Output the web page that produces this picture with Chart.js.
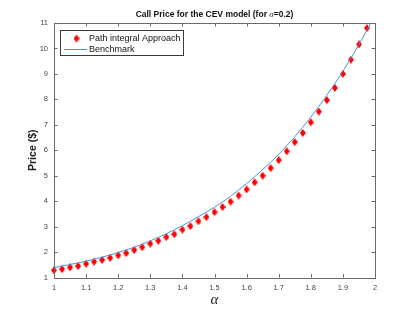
<!DOCTYPE html>
<html lang="en">
  <head>
    <meta charset="UTF-8" />
    <title>Call Price for the CEV model</title>
    <script src="https://cdn.jsdelivr.net/npm/chart.js"></script>
    <style>
      html, body { margin: 0; padding: 0; background: #fff; }
      #wrap { width: 415px; height: 312px; }
    </style>
  </head>
  <body>
    <div id="wrap"><canvas id="cevChart" width="415" height="312"></canvas></div>
    <script>
      // path integral approach, alpha step 0.025
      const alphaPts = [1, 1.025, 1.05, 1.075, 1.1, 1.125, 1.15, 1.175, 1.2, 1.225,
        1.25, 1.275, 1.3, 1.325, 1.35, 1.375, 1.4, 1.425, 1.45, 1.475,
        1.5, 1.525, 1.55, 1.575, 1.6, 1.625, 1.65, 1.675, 1.7, 1.725,
        1.75, 1.775, 1.8, 1.825, 1.85, 1.875, 1.9, 1.925, 1.95, 1.975];
      const pathPrice = [1.28, 1.33, 1.40, 1.45, 1.54, 1.62, 1.69, 1.77, 1.87, 1.96,
        2.08, 2.19, 2.33, 2.44, 2.59, 2.70, 2.88, 3.02, 3.21, 3.37,
        3.57, 3.77, 3.98, 4.22, 4.46, 4.74, 5.00, 5.30, 5.61, 5.96,
        6.32, 6.68, 7.10, 7.52, 7.97, 8.45, 9.00, 9.56, 10.16, 10.80];

      // benchmark curve
      const benchAlpha = [1, 1.05, 1.1, 1.15, 1.2, 1.25, 1.3, 1.35, 1.4, 1.45, 1.5,
        1.55, 1.6, 1.65, 1.7, 1.75, 1.8, 1.85, 1.9, 1.95, 2];
      const benchPrice = [1.39, 1.51, 1.64, 1.80, 1.98, 2.19, 2.44, 2.72, 3.04, 3.39, 3.76,
        4.19, 4.69, 5.24, 5.84, 6.53, 7.30, 8.16, 9.10, 10.15, 11.3];

      const xTicks = [1, 1.1, 1.2, 1.3, 1.4, 1.5, 1.6, 1.7, 1.8, 1.9, 2];
      const yTicks = [1, 2, 3, 4, 5, 6, 7, 8, 9, 10, 11];

      const red = "#ff0000";
      const blue = "rgb(70,150,215)";
      const axisCol = "#6a6a6a";
      const sans = "'Liberation Sans', Arial, sans-serif";

      // matlab-like diamond marker
      const diamond = document.createElement("canvas");
      diamond.width = 6;
      diamond.height = 8;
      const dctx = diamond.getContext("2d");
      dctx.fillStyle = red;
      dctx.beginPath();
      dctx.moveTo(3, 0);
      dctx.lineTo(6, 4);
      dctx.lineTo(3, 8);
      dctx.lineTo(0, 4);
      dctx.closePath();
      dctx.fill();

      const frame = {
        id: "frame",
        afterDraw(chart) {
          const { ctx, chartArea: a, scales } = chart;
          ctx.save();
          // box + inward ticks on all sides
          ctx.strokeStyle = axisCol;
          ctx.lineWidth = 1;
          ctx.strokeRect(Math.round(a.left) + 0.5, Math.round(a.top) + 0.5,
            Math.round(a.right - a.left), Math.round(a.bottom - a.top));
          ctx.beginPath();
          xTicks.forEach((v) => {
            const px = Math.round(scales.x.getPixelForValue(v)) + 0.5;
            ctx.moveTo(px, a.bottom); ctx.lineTo(px, a.bottom - 3.5);
            ctx.moveTo(px, a.top); ctx.lineTo(px, a.top + 3.5);
          });
          yTicks.forEach((v) => {
            const py = Math.round(scales.y.getPixelForValue(v)) + 0.5;
            ctx.moveTo(a.left, py); ctx.lineTo(a.left + 3.5, py);
            ctx.moveTo(a.right, py); ctx.lineTo(a.right - 3.5, py);
          });
          ctx.stroke();

          // title with italic sigma
          const parts = [
            ["Call Price for the CEV model (for ", "bold 8.5px " + sans],
            ["\u03c3", "italic 9px 'Liberation Serif', serif"],
            ["=0.2)", "bold 8.5px " + sans],
          ];
          let w = 0;
          parts.forEach((p) => { ctx.font = p[1]; w += ctx.measureText(p[0]).width; });
          let tx = (a.left + a.right) / 2 - w / 2;
          ctx.fillStyle = "#111";
          ctx.textBaseline = "middle";
          ctx.textAlign = "left";
          parts.forEach((p) => {
            ctx.font = p[1];
            ctx.fillText(p[0], tx, 15);
            tx += ctx.measureText(p[0]).width;
          });

          // legend
          ctx.fillStyle = "#fff";
          ctx.fillRect(60.5, 30.5, 123, 25);
          ctx.strokeStyle = "#3a3a3a";
          ctx.strokeRect(60.5, 30.5, 123, 25);
          ctx.drawImage(diamond, 73.5, 34.5);
          ctx.strokeStyle = blue;
          ctx.beginPath();
          ctx.moveTo(64, 49.5);
          ctx.lineTo(87, 49.5);
          ctx.stroke();
          ctx.fillStyle = "#111";
          ctx.font = "9px " + sans;
          ctx.fillText(chart.data.datasets[1].label, 89, 38.5);
          ctx.fillText(chart.data.datasets[0].label, 89, 49.5);
          ctx.restore();
        },
      };

      new Chart(document.getElementById("cevChart"), {
        type: "scatter",
        data: {
          datasets: [
            {
              type: "line",
              label: "Benchmark",
              data: benchAlpha.map((x, i) => ({ x: x, y: benchPrice[i] })),
              borderColor: blue,
              borderWidth: 1,
              pointRadius: 0,
              cubicInterpolationMode: "monotone",
              fill: false,
              order: 0,
            },
            {
              label: "Path integral Approach",
              data: alphaPts.map((x, i) => ({ x: x, y: pathPrice[i] })),
              pointStyle: diamond,
              backgroundColor: red,
              borderColor: red,
              clip: false,
              order: 1,
            },
          ],
        },
        options: {
          responsive: false,
          animation: false,
          layout: { padding: { top: 23, right: 40, left: 0, bottom: 0 } },
          plugins: { legend: { display: false }, tooltip: { enabled: false } },
          scales: {
            x: {
              type: "linear",
              min: 1,
              max: 2,
              grid: { display: false, drawTicks: false },
              border: { display: false },
              afterBuildTicks: (s) => { s.ticks = xTicks.map((v) => ({ value: v })); },
              afterFit: (s) => { s.height = 34.5; },
              ticks: {
                padding: 6,
                font: { family: sans, size: 7.5 },
                color: "#444",
                callback: (v) => String(+v.toFixed(1)),
              },
              title: {
                display: true,
                text: "\u03b1",
                color: "#222",
                font: { family: "'Liberation Serif', serif", style: "italic", size: 15 },
                padding: { top: 0, bottom: 3 },
              },
            },
            y: {
              min: 1,
              max: 11,
              grid: { display: false, drawTicks: false },
              border: { display: false },
              afterBuildTicks: (s) => { s.ticks = yTicks.map((v) => ({ value: v })); },
              afterFit: (s) => { s.width = 54; },
              ticks: {
                padding: 6,
                font: { family: sans, size: 7.5 },
                color: "#444",
              },
              title: {
                display: true,
                text: "Price ($)",
                color: "#222",
                font: { family: sans, weight: "bold", size: 10.5 },
                padding: { top: 26.7, bottom: 0 },
              },
            },
          },
        },
        plugins: [frame],
      });
    </script>
  </body>
</html>
